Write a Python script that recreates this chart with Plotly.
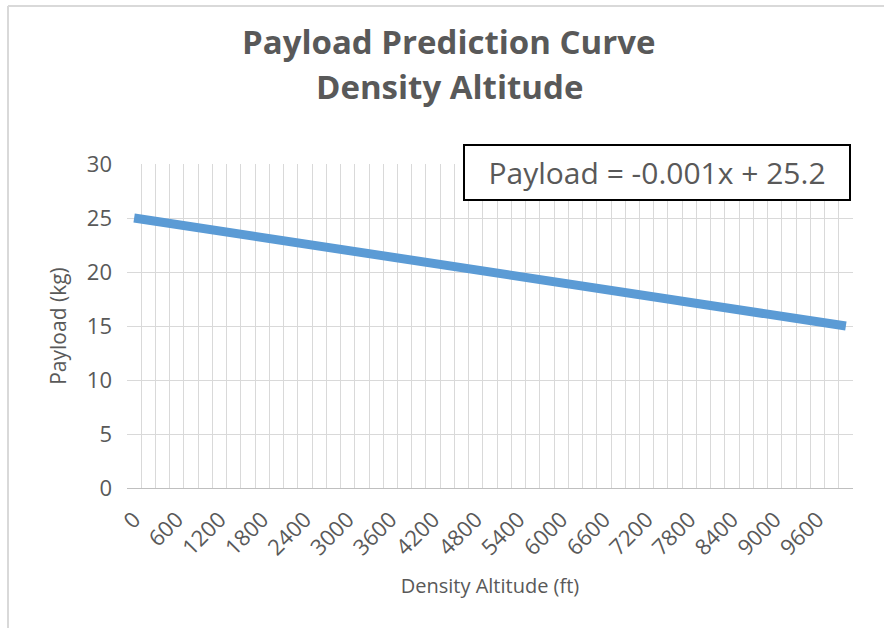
import plotly.graph_objects as go

altitude_ft = [0, 200, 400, 600, 800, 1000, 1200, 1400, 1600, 1800,
               2000, 2200, 2400, 2600, 2800, 3000, 3200, 3400, 3600, 3800,
               4000, 4200, 4400, 4600, 4800, 5000, 5200, 5400, 5600, 5800,
               6000, 6200, 6400, 6600, 6800, 7000, 7200, 7400, 7600, 7800,
               8000, 8200, 8400, 8600, 8800, 9000, 9200, 9400, 9600, 9800,
               10000]
payload_kg = [25.0, 24.8, 24.6, 24.4, 24.2, 24.0, 23.8, 23.6, 23.4, 23.2,
              23.0, 22.8, 22.6, 22.4, 22.2, 22.0, 21.8, 21.6, 21.4, 21.2,
              21.0, 20.8, 20.6, 20.4, 20.2, 20.0, 19.8, 19.6, 19.4, 19.2,
              19.0, 18.8, 18.6, 18.4, 18.2, 18.0, 17.8, 17.6, 17.4, 17.2,
              17.0, 16.8, 16.6, 16.4, 16.2, 16.0, 15.8, 15.6, 15.4, 15.2,
              15.0]
x_tick_vals = [0, 600, 1200, 1800, 2400, 3000, 3600, 4200, 4800, 5400,
               6000, 6600, 7200, 7800, 8400, 9000, 9600]
x_tick_text = [str(v) for v in x_tick_vals]
y_tick_vals = [0, 5, 10, 15, 20, 25, 30]
title_lines = ["Payload Prediction Curve", "Density Altitude"]
equation_text = "Payload = -0.001x + 25.2"

FONT = "Open Sans"
GREY = "#595959"
GRID = "#d9d9d9"

W, H = 884, 628
L, R, T, B = 127, 31, 164, 140
pw, ph = W - L - R, H - T - B

def px_x(x):
    return (x - L) / pw

def px_y(y):
    return (H - B - y) / ph

fig = go.Figure()
fig.add_trace(go.Scatter(
    x=altitude_ft, y=payload_kg, mode="lines",
    line=dict(color="#5b9bd5", width=9),
    showlegend=False, hoverinfo="skip",
))

annotations = []
for line_text, cy in zip(title_lines, [41.5, 86.5]):
    annotations.append(dict(
        text="<b>" + line_text + "</b>",
        xref="paper", yref="paper",
        x=px_x(449), y=px_y(cy), xanchor="center", yanchor="middle",
        showarrow=False,
        font=dict(family=FONT, size=33, color=GREY),
    ))
annotations.append(dict(
    text=equation_text,
    xref="paper", yref="paper",
    x=px_x(657), y=px_y(172.5), xanchor="center", yanchor="middle",
    showarrow=False, bgcolor="white",
    bordercolor="black", borderwidth=2, borderpad=3,
    width=378, height=47,
    font=dict(family=FONT, size=30, color=GREY),
))

fig.update_layout(
    width=W, height=H,
    margin=dict(l=L, r=R, t=T, b=B),
    paper_bgcolor="white", plot_bgcolor="white",
    font=dict(family=FONT, color=GREY),
    xaxis=dict(
        range=[-100, 10100],
        tickmode="array", tickvals=x_tick_vals, ticktext=x_tick_text,
        tickangle=-45, showgrid=False, zeroline=False,
        tickfont=dict(family=FONT, size=22, color=GREY),
        ticklabelstandoff=9,
        minor=dict(tick0=-100, dtick=200, showgrid=True,
                   gridcolor=GRID, gridwidth=1, ticks=""),
        showline=True, linecolor="#bfbfbf", linewidth=1,
        title=dict(text="Density Altitude (ft)",
                   font=dict(family=FONT, size=20, color=GREY),
                   standoff=18),
    ),
    yaxis=dict(
        range=[0, 30], tickmode="array", tickvals=y_tick_vals,
        showgrid=True, gridcolor=GRID, gridwidth=1, zeroline=False,
        tickfont=dict(family=FONT, size=22, color=GREY),
        ticklabelstandoff=14,
        title=dict(text="Payload (kg)",
                   font=dict(family=FONT, size=21, color=GREY),
                   standoff=14),
    ),
    annotations=annotations,
    shapes=[
        dict(type="line", xref="paper", yref="paper",
             x0=px_x(8), x1=px_x(8), y0=px_y(6), y1=px_y(H),
             line=dict(color=GRID, width=2)),
        dict(type="line", xref="paper", yref="paper",
             x0=px_x(8), x1=px_x(W), y0=px_y(6), y1=px_y(6),
             line=dict(color=GRID, width=2)),
    ],
)

fig.write_html("out.html")
